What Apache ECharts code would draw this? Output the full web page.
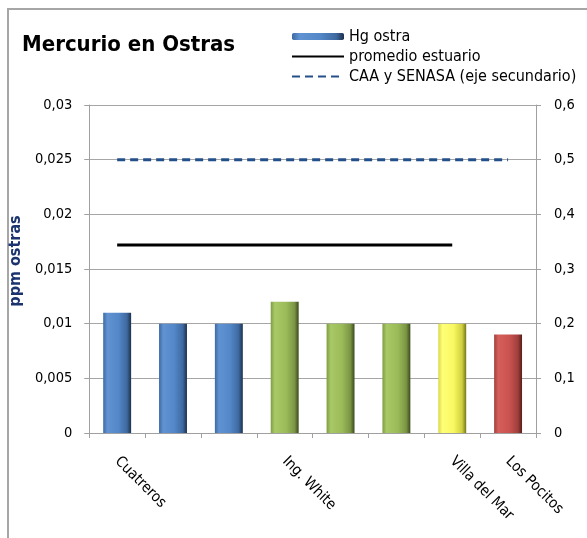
<!DOCTYPE html>
<html>
<head>
<meta charset="utf-8">
<script src="https://cdn.jsdelivr.net/npm/echarts@6/dist/echarts.min.js"></script>
<style>
  html, body { margin: 0; padding: 0; background: #fff; }
  #frame { position: absolute; left: 7px; top: 8px; width: 600px; height: 560px;
           border-left: 2px solid #a6a6a6; border-top: 2px solid #a6a6a6; }
  #chart { position: absolute; left: 0; top: 0; width: 587px; height: 538px; }
</style>
</head>
<body>
<div id="frame"></div>
<div id="chart"></div>
<script>
  // localidades (solo algunas llevan etiqueta)
  const categories = ['Cuatreros', '', '', 'Ing. White', '', '', 'Villa del Mar', 'Los Pocitos']
  // Hg en ostras (ppm)
  const hgOstra = [0.011, 0.010, 0.010, 0.012, 0.010, 0.010, 0.010, 0.009]
  const barGroup = ['blue', 'blue', 'blue', 'green', 'green', 'green', 'yellow', 'red']
  // promedio del estuario, hasta Villa del Mar
  const promedioEstuario = [0.0172, 0.0172, 0.0172, 0.0172, 0.0172, 0.0172, 0.0172, null]
  // limite CAA y SENASA (eje secundario)
  const caaSenasa = [0.5, 0.5, 0.5, 0.5, 0.5, 0.5, 0.5, 0.5]

  const fontFamily = "'DejaVu Sans Condensed', 'DejaVu Sans', sans-serif"

  function bevel(c) {
    return new echarts.graphic.LinearGradient(0, 0, 1, 0, [
      { offset: 0, color: c[0] },
      { offset: 0.15, color: c[1] },
      { offset: 0.55, color: c[2] },
      { offset: 0.85, color: c[3] },
      { offset: 1, color: c[4] }
    ])
  }
  const palette = {
    blue: bevel(['#3d6aa3', '#6193d2', '#5387c7', '#3e69a0', '#1c304c']),
    green: bevel(['#7f9c45', '#a9c966', '#9bbb59', '#7b9644', '#3a4a1c']),
    yellow: bevel(['#d9d94a', '#ffff78', '#f8f862', '#d0d040', '#75751a']),
    red: bevel(['#a0403d', '#d65f5c', '#c9524f', '#a23f3c', '#561d1b'])
  }

  const comma = v => String(v).replace('.', ',')
  const noMarker = { opacity: 0 }

  const chart = echarts.init(document.getElementById('chart'), null, { renderer: 'canvas' })
  chart.setOption({
    animation: false,
    textStyle: { fontFamily },
    title: {
      text: 'Mercurio en Ostras',
      left: 17,
      top: 29,
      textStyle: { fontFamily, fontSize: 22, fontWeight: 'bold', color: '#000' }
    },
    legend: {
      orient: 'vertical',
      left: 286,
      top: 23,
      itemWidth: 52,
      itemHeight: 7,
      itemGap: 3,
      textStyle: { fontFamily, fontSize: 16, color: '#000', lineHeight: 17 },
      data: [
        { name: 'Hg ostra' },
        { name: 'promedio estuario', itemStyle: noMarker },
        { name: 'CAA y SENASA (eje secundario)', itemStyle: noMarker }
      ]
    },
    grid: { left: 89, right: 51, top: 105, bottom: 105 },
    xAxis: {
      type: 'category',
      data: categories,
      axisLine: { lineStyle: { color: '#a0a0a0' } },
      axisTick: { show: true, length: 5, lineStyle: { color: '#a0a0a0' } },
      axisLabel: { interval: 0, rotate: -45, margin: 26, fontSize: 15, color: '#000', fontFamily }
    },
    yAxis: [{
      type: 'value',
      min: 0,
      max: 0.03,
      interval: 0.005,
      name: 'ppm ostras',
      nameLocation: 'middle',
      nameGap: 61,
      nameTextStyle: { fontFamily, fontSize: 16, fontWeight: 'bold', color: '#1b336e', padding: [0, 0, 0, 16] },
      axisLine: { show: true, lineStyle: { color: '#a0a0a0' } },
      axisTick: { show: true, length: 5, lineStyle: { color: '#a0a0a0' } },
      axisLabel: { margin: 17, fontSize: 14.5, color: '#000', fontFamily, formatter: comma },
      splitLine: { lineStyle: { color: '#a6a6a6' } }
    }, {
      type: 'value',
      min: 0,
      max: 0.6,
      interval: 0.1,
      axisLine: { show: true, lineStyle: { color: '#a0a0a0' } },
      axisTick: { show: true, length: 5, lineStyle: { color: '#a0a0a0' } },
      axisLabel: { margin: 18, fontSize: 14.5, color: '#000', fontFamily, formatter: comma },
      splitLine: { show: false }
    }],
    series: [{
      name: 'Hg ostra',
      type: 'bar',
      barWidth: '50%',
      itemStyle: { color: palette.blue },
      data: hgOstra.map((v, i) => ({ value: v, itemStyle: { color: palette[barGroup[i]] } }))
    }, {
      name: 'promedio estuario',
      type: 'line',
      symbol: 'none',
      lineStyle: { color: '#000', width: 3 },
      itemStyle: { color: '#000' },
      data: promedioEstuario
    }, {
      name: 'CAA y SENASA (eje secundario)',
      type: 'line',
      yAxisIndex: 1,
      symbol: 'none',
      lineStyle: { color: '#24508a', width: 3, type: [8, 5] },
      itemStyle: { color: '#24508a' },
      data: caaSenasa
    }]
  })
</script>
</body>
</html>
